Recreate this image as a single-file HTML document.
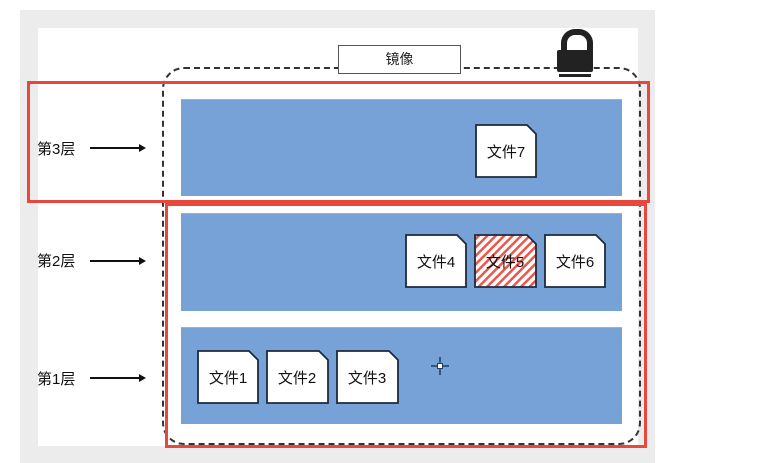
<!DOCTYPE html>
<html><head><meta charset="utf-8"><style>
body{margin:0;width:779px;height:463px;background:#fff;position:relative;overflow:hidden;font-family:"Liberation Sans","Noto Sans CJK SC",sans-serif}
.a{position:absolute}
.band{position:absolute;left:181px;width:441px;background:#77a2d8;border-top:1px solid #8fb4e0}
.lbl{position:absolute;left:37px;font-size:15px;color:#111}
.arr{position:absolute;left:90px;width:50px;height:2px;background:#111}
.arr:after{content:"";position:absolute;right:-6px;top:-3px;border-left:7px solid #111;border-top:4px solid transparent;border-bottom:4px solid transparent}
</style></head><body>
<div class="a" style="left:20px;top:10px;width:635px;height:453px;background:#ececec"></div>
<div class="a" style="left:38px;top:28px;width:600px;height:418px;background:#fff"></div>
<div class="a" style="left:162px;top:67px;width:475px;height:374px;border:2px dashed #333;border-radius:22px"></div>
<div class="a" style="left:338px;top:45px;width:121px;height:27px;border:1.5px solid #555;background:#fff;text-align:center;line-height:27px;font-size:14px;color:#222">镜像</div>
<div class="a" style="left:561px;top:29px;width:20px;height:28px;border:6px solid #222;border-bottom:none;border-radius:14px 14px 0 0"></div>
<div class="a" style="left:557px;top:50px;width:36px;height:22px;background:#222;border-radius:2px"></div>
<div class="a" style="left:559px;top:74px;width:32px;height:3px;background:#222"></div>
<div class="band" style="top:99px;height:96px"></div>
<div class="band" style="top:213px;height:97px"></div>
<div class="band" style="top:327px;height:96px"></div>
<div class="a" style="left:27px;top:81px;width:617px;height:116px;border:3px solid #e8483c"></div>
<div class="a" style="left:165px;top:203px;width:476px;height:239px;border:3px solid #e8483c"></div>
<div class="lbl" style="top:138px">第3层</div><div class="arr" style="top:147px"></div>
<div class="lbl" style="top:250px">第2层</div><div class="arr" style="top:260px"></div>
<div class="lbl" style="top:368px">第1层</div><div class="arr" style="top:377px"></div>
<svg class="a" style="left:0;top:0" width="779" height="463">
<defs><pattern id="h" width="6" height="6" patternUnits="userSpaceOnUse" patternTransform="rotate(45)"><rect width="6" height="6" fill="#fff"/><rect width="2.5" height="6" fill="#e8584c"/></pattern></defs>
<g font-family="Liberation Sans, Noto Sans CJK SC, sans-serif" font-size="15" fill="#111" text-anchor="middle" stroke="#1e2a3a" stroke-width="1.8">
<path d="M476 125H527L536 134V177H476Z" fill="#fff"/>
<path d="M406 235H457L466 244V287H406Z" fill="#fff"/>
<path d="M475 235H527L536 244V287H475Z" fill="url(#h)"/>
<path d="M545 235H596L605 244V287H545Z" fill="#fff"/>
<path d="M198 351H249L258 360V403H198Z" fill="#fff"/>
<path d="M267 351H319L328 360V403H267Z" fill="#fff"/>
<path d="M337 351H389L398 360V403H337Z" fill="#fff"/>
<g stroke="none">
<text x="506" y="157">文件7</text>
<text x="436" y="267">文件4</text>
<text x="505" y="267">文件5</text>
<text x="575" y="267">文件6</text>
<text x="228" y="383">文件1</text>
<text x="297" y="383">文件2</text>
<text x="367" y="383">文件3</text>
</g></g>
<g stroke="#1f3d66" stroke-width="1.5"><line x1="431" y1="366" x2="449" y2="366"/><line x1="440" y1="357" x2="440" y2="375"/></g>
<rect x="437.5" y="363.5" width="5" height="5" fill="#fff" stroke="#1f3d66"/>
</svg>
</body></html>
